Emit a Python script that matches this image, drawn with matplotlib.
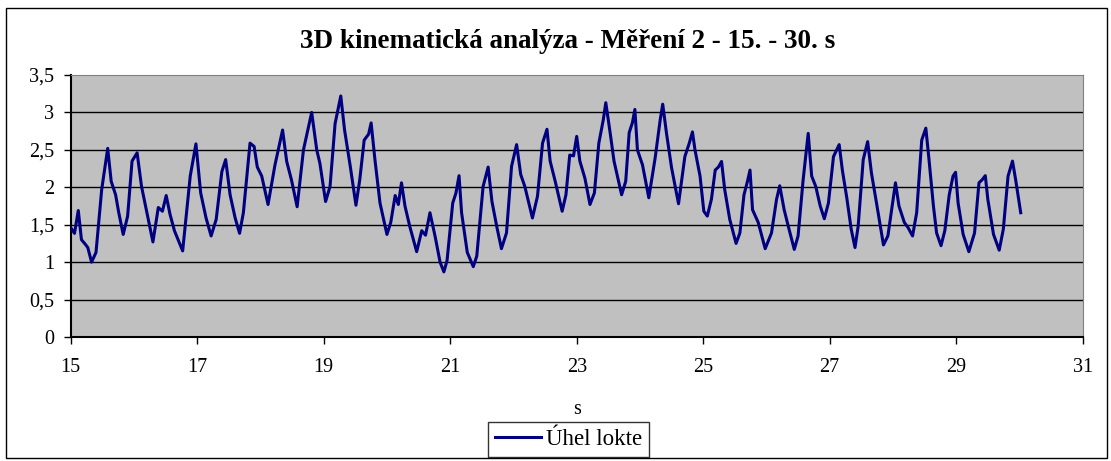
import matplotlib.pyplot as plt
from matplotlib.patches import Rectangle
from matplotlib.ticker import FuncFormatter

# time [s] and elbow angle
time_s = [
    15.00, 15.06, 15.12, 15.17, 15.23, 15.27, 15.33, 15.40, 15.49, 15.585,
    15.64, 15.71, 15.76, 15.83, 15.90, 15.97, 16.05, 16.12, 16.20, 16.30,
    16.385, 16.45, 16.51, 16.57, 16.64, 16.77, 16.89, 16.98, 17.055, 17.14,
    17.22, 17.30, 17.39, 17.45, 17.52, 17.60, 17.67, 17.73, 17.835, 17.90,
    17.95, 18.02, 18.12, 18.23, 18.35, 18.415, 18.49, 18.58, 18.68, 18.81,
    18.89, 18.94, 19.03, 19.10, 19.18, 19.27, 19.33, 19.42, 19.51, 19.57,
    19.64, 19.71, 19.75, 19.81, 19.89, 20.00, 20.06, 20.13, 20.18, 20.23,
    20.285, 20.36, 20.47, 20.55, 20.61, 20.68, 20.76, 20.84, 20.90, 20.95,
    21.04, 21.09, 21.14, 21.18, 21.27, 21.365, 21.42, 21.52, 21.60, 21.66,
    21.735, 21.81, 21.89, 21.97, 22.05, 22.115, 22.18, 22.30, 22.38, 22.46,
    22.53, 22.58, 22.66, 22.77, 22.83, 22.89, 22.95, 23.00, 23.05, 23.13,
    23.21, 23.28, 23.35, 23.42, 23.46, 23.53, 23.59, 23.71, 23.775, 23.83,
    23.88, 23.92, 23.96, 24.04, 24.14, 24.24, 24.32, 24.36, 24.42, 24.50,
    24.61, 24.71, 24.78, 24.83, 24.87, 24.95, 25.01, 25.065, 25.13, 25.19,
    25.24, 25.29, 25.34, 25.42, 25.52, 25.58, 25.645, 25.70, 25.74, 25.78,
    25.87, 25.98, 26.08, 26.16, 26.21, 26.28, 26.345, 26.44, 26.50, 26.58,
    26.66, 26.715, 26.78, 26.85, 26.915, 26.98, 27.06, 27.11, 27.15, 27.20,
    27.27, 27.34, 27.40, 27.45, 27.53, 27.60, 27.66, 27.74, 27.85, 27.92,
    27.98, 28.04, 28.095, 28.18, 28.24, 28.31, 28.375, 28.455, 28.52, 28.57,
    28.64, 28.69, 28.76, 28.82, 28.89, 28.95, 28.99, 29.03, 29.11, 29.20,
    29.29, 29.36, 29.41, 29.46, 29.50, 29.59, 29.68, 29.745, 29.82, 29.89,
    29.94, 30.02,
]
uhel_lokte = [
    1.46, 1.385, 1.69, 1.30, 1.24, 1.195, 1.00, 1.13, 1.97, 2.52,
    2.08, 1.90, 1.66, 1.37, 1.615, 2.35, 2.46, 2.01, 1.68, 1.27,
    1.73, 1.68, 1.89, 1.64, 1.42, 1.15, 2.15, 2.58, 1.925, 1.59,
    1.35, 1.57, 2.21, 2.37, 1.90, 1.59, 1.385, 1.66, 2.59, 2.545,
    2.27, 2.15, 1.77, 2.30, 2.765, 2.345, 2.10, 1.74, 2.50, 3.00,
    2.50, 2.32, 1.81, 2.01, 2.85, 3.22, 2.765, 2.28, 1.76, 2.10,
    2.63, 2.71, 2.86, 2.37, 1.79, 1.37, 1.53, 1.89, 1.77, 2.06,
    1.75, 1.48, 1.14, 1.42, 1.36, 1.66, 1.35, 1.00, 0.87, 1.02,
    1.79, 1.92, 2.155, 1.66, 1.13, 0.94, 1.08, 2.01, 2.27, 1.81,
    1.48, 1.18, 1.39, 2.28, 2.57, 2.17, 2.01, 1.59, 1.88, 2.59,
    2.775, 2.35, 2.08, 1.68, 1.90, 2.43, 2.42, 2.68, 2.35, 2.12,
    1.77, 1.925, 2.59, 2.90, 3.13, 2.72, 2.35, 1.90, 2.08, 2.73,
    2.86, 3.04, 2.50, 2.30, 1.86, 2.39, 2.90, 3.11, 2.72, 2.26,
    1.78, 2.41, 2.59, 2.74, 2.50, 2.15, 1.68, 1.615, 1.84, 2.23,
    2.27, 2.345, 1.97, 1.57, 1.25, 1.39, 1.90, 2.08, 2.23, 1.70,
    1.53, 1.18, 1.39, 1.84, 2.02, 1.70, 1.48, 1.17, 1.35, 2.10,
    2.72, 2.15, 2.01, 1.75, 1.58, 1.79, 2.41, 2.50, 2.57, 2.23,
    1.86, 1.44, 1.195, 1.48, 2.37, 2.61, 2.19, 1.79, 1.23, 1.35,
    1.70, 2.06, 1.75, 1.53, 1.46, 1.35, 1.66, 2.63, 2.79, 2.37,
    1.75, 1.39, 1.22, 1.42, 1.90, 2.15, 2.20, 1.79, 1.37, 1.14,
    1.39, 2.06, 2.10, 2.155, 1.84, 1.37, 1.16, 1.44, 2.15, 2.35,
    2.10, 1.66,
]
x_ticks = [15, 17, 19, 21, 23, 25, 27, 29, 31]
y_ticks = [0, 0.5, 1, 1.5, 2, 2.5, 3, 3.5]

plt.rcParams['font.family'] = ['Liberation Serif', 'DejaVu Serif']

W, H = 1111, 461
fig = plt.figure(figsize=(W / 100, H / 100), dpi=100)
fig.patch.set_facecolor('white')

# outer chart border
fig.patches.append(Rectangle((6 / W, 1 - 458 / H), 1101 / W, 450 / H,
                             transform=fig.transFigure, fill=False,
                             edgecolor='black', linewidth=1))

ax = fig.add_axes([70.7 / W, 1 - 337 / H, 1012 / W, 262 / H])
ax.set_facecolor('#c0c0c0')

for y in y_ticks[1:-1]:
    ax.axhline(y, color='black', linewidth=1, zorder=1)

ax.plot(time_s, uhel_lokte, color='#000080', linewidth=2.2, zorder=3,
        label='Úhel lokte')

ax.set_xlim(15, 31)
ax.set_ylim(0, 3.5)
ax.set_xticks(x_ticks)
ax.set_yticks(y_ticks)
comma = FuncFormatter(lambda v, p: ('%g' % v).replace('.', ','))
ax.xaxis.set_major_formatter(comma)
ax.yaxis.set_major_formatter(comma)
ax.tick_params(direction='out', length=5, width=1, color='black',
               labelsize=14.5)
ax.tick_params(axis='x', pad=10)
ax.tick_params(axis='y', pad=7)

for side in ['top', 'right']:
    ax.spines[side].set_color('#808080')
for side in ['left', 'bottom']:
    ax.spines[side].set_color('black')
    ax.spines[side].set_linewidth(1.5)

fig.text(576.7 / W, 1 - 409 / H, 's', ha='center', va='center', fontsize=14.5)
fig.text(567.5 / W, 1 - 41 / H, '3D kinematická analýza - Měření 2 - 15. - 30. s',
         ha='center', va='center', fontsize=19.5, fontweight='bold')

leg = fig.legend(*ax.get_legend_handles_labels(), loc='center',
                 bbox_to_anchor=(568.5 / W, 1 - 439.5 / H), frameon=True,
                 fancybox=False, edgecolor='black', fontsize=16.5,
                 handlelength=2.0, borderpad=0.3, handletextpad=0.2,
                 borderaxespad=0)
leg.get_frame().set_linewidth(1)

fig.savefig('out.png', dpi=100)
